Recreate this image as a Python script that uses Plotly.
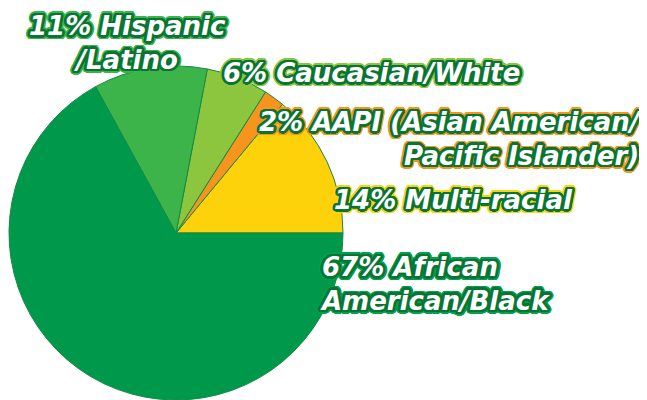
import math
import plotly.graph_objects as go

# Data
categories = ["Multi-racial", "AAPI (Asian American/ Pacific Islander)", "Caucasian/White",
              "Hispanic /Latino", "African American/Black"]
values = [14, 2, 6, 11, 67]
slice_colors = ["#fdd20b", "#f7941d", "#8cc63f", "#3cb44a", "#00994c"]

label_texts = ["14% Multi-racial",
               "2% AAPI (Asian American/<br>Pacific Islander)",
               "6% Caucasian/White",
               "11% Hispanic<br>/Latino",
               "67% African<br>American/Black"]
glow_colors = ["#fdd20b", "#f7941d", "#8cc63f", "#3cb44a", "#00a04f"]

# page has an 8px body margin; figure sized to fit the window
W, H = 639, 392
OFF = 8
INNER = "#0a7434"


def outline(outer, inner=INNER):
    parts = []
    for r, c in [(1.0, inner), (1.8, inner), (2.5, inner), (3.3, outer), (4.2, outer)]:
        n = 24
        for k in range(n):
            a = 2 * math.pi * k / n
            parts.append(f"{r*math.cos(a):.2f}px {r*math.sin(a):.2f}px 0 {c}")
    return ", ".join(parts)


first_frac = values[0] / sum(values)

fig = go.Figure(go.Pie(
    labels=categories,
    values=values,
    sort=False,
    direction="counterclockwise",
    rotation=90 - 360 * first_frac,
    marker=dict(colors=slice_colors, line=dict(color="#138a45", width=1)),
    textinfo="none",
    hoverinfo="label+percent",
    showlegend=False,
    domain=dict(x=[1 / W, 335 / W], y=[0, 334 / H]),
))

# label placement (screen pixel positions)
placements = [
    # (x, y, xanchor, align)
    (332, 200, "left", "left"),
    (644, 139, "right", "right"),
    (221, 73, "left", "left"),
    (127, 43, "center", "center"),
    (318, 284, "left", "left"),
]

for txt, glow, (px, py, xa, al) in zip(label_texts, glow_colors, placements):
    fig.add_annotation(
        x=(px - OFF) / W, y=1 - (py - OFF) / H, xref="paper", yref="paper",
        xanchor=xa, yanchor="middle", align=al,
        text=txt, showarrow=False,
        font=dict(family="DejaVu Sans", size=26, color="white",
                  weight="bold", style="italic", shadow=outline(glow)),
    )

fig.update_layout(
    width=W, height=H,
    margin=dict(l=0, r=0, t=0, b=0),
    paper_bgcolor="white",
    plot_bgcolor="white",
)

fig.write_html("out.html")
